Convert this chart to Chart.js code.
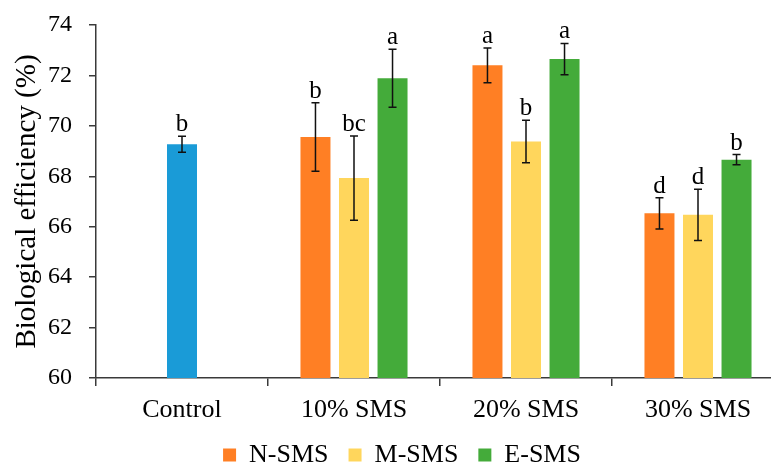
<!DOCTYPE html>
<html>
<head>
<meta charset="utf-8">
<script src="https://cdn.jsdelivr.net/npm/chart.js@4/dist/chart.umd.min.js"></script>
<style>
  html, body { margin:0; padding:0; overflow:hidden; background:#fff; }
  canvas { display:block; }
</style>
</head>
<body>
<canvas id="chart" width="784" height="464"></canvas>
<script>

// categories and series
const categories = ['Control', '10% SMS', '20% SMS', '30% SMS']
const yTicks     = [60, 62, 64, 66, 68, 70, 72, 74]

const controlVals = [69.27, null, null, null]
const nVals       = [null, 69.56, 72.40, 66.53]
const mVals       = [null, 67.93, 69.38, 66.47]
const eVals       = [null, 71.89, 72.65, 68.66]

// standard deviations
const controlErr = [0.32, null, null, null]
const nErr       = [null, 1.36, 0.69, 0.62]
const mErr       = [null, 1.67, 0.84, 1.02]
const eErr       = [null, 1.15, 0.62, 0.20]

// significance letters
const controlSig = ['b', null, null, null]
const nSig       = [null, 'b', 'a', 'd']
const mSig       = [null, 'bc', 'b', 'd']
const eSig       = [null, 'a', 'a', 'b']

const serif = '"Liberation Serif", "Times New Roman", serif'
const axisColor = '#3a3a3a'

const errList = [controlErr, nErr, mErr, eErr]
const sigList = [controlSig, nSig, mSig, eSig]


const errorBars = {
      id: 'errorBars',
      afterDatasetsDraw(chart){
            const ctx = chart.ctx
            const yScale = chart.scales.y
            ctx.save()
            chart.data.datasets.forEach((ds, i)=>{
                  const meta = chart.getDatasetMeta(i)
                  meta.data.forEach((bar, j)=>{
                        const v = ds.data[j]
                        if(v === null){ return }
                        const e = errList[i][j]
                        const yTop = yScale.getPixelForValue(v + e)
                        const yBot = yScale.getPixelForValue(v - e)
                        const x = bar.x
                        ctx.strokeStyle = '#111'
                        ctx.lineWidth = 1.5
                        ctx.beginPath()
                        ctx.moveTo(x, yTop); ctx.lineTo(x, yBot)
                        ctx.moveTo(x-4, yTop); ctx.lineTo(x+4, yTop)
                        ctx.moveTo(x-4, yBot); ctx.lineTo(x+4, yBot)
                        ctx.stroke()

                        ctx.fillStyle = '#000'
                        ctx.font = '25px ' + serif
                        ctx.textAlign = 'center'
                        ctx.textBaseline = 'alphabetic'
                        ctx.fillText(sigList[i][j], x, yTop - 5)
                  })
            })
            ctx.restore()
      }
}


const setup = {
      type: 'bar',
      data: {
            labels: categories,
            datasets: [
                  { label:'Control', data: controlVals, backgroundColor:'#1a9bd7' },
                  { label:'N-SMS',   data: nVals,       backgroundColor:'#ff7f24' },
                  { label:'M-SMS',   data: mVals,       backgroundColor:'#ffd65c' },
                  { label:'E-SMS',   data: eVals,       backgroundColor:'#44ab3a' },
            ]
      },
      options: {
            responsive: false,
            animation: false,
            skipNull: true,
            categoryPercentage: 0.672,
            barPercentage: 0.78,
            maxBarThickness: 30,
            layout: { padding: { top: 25, right: 0, bottom: -14, left: 20 } },
            scales: {
                  x: {
                        afterFit: (scale)=>{ scale.height = 44 },
                        grid: { offset: true, drawOnChartArea: false, tickLength: 8, color: axisColor, lineWidth: 1.5 },
                        border: { color: axisColor, width: 1.5 },
                        ticks: { color:'#000', font: { family: serif, size: 26 }, padding: 9 },
                  },
                  y: {
                        min: 60, max: 74,
                        afterFit: (scale)=>{ scale.width = 76; scale.paddingTop = 0; scale.paddingBottom = 0 },
                        afterBuildTicks: (scale)=>{ scale.ticks = yTicks.map(v => ({ value: v })) },
                        grid: { drawOnChartArea: false, tickLength: 7, color: axisColor, lineWidth: 1.5 },
                        border: { color: axisColor, width: 1.5 },
                        ticks: { color:'#000', font: { family: serif, size: 24 }, padding: 17 },
                        title: {
                              display: true,
                              text: 'Biological efficiency (%)',
                              color: '#000',
                              font: { family: serif, size: 29, lineHeight: 1 },
                              padding: { top: -7.5, bottom: 0 }
                        }
                  }
            },
            plugins: {
                  legend: {
                        display: true,
                        position: 'bottom',
                        labels: {
                              color: '#000',
                              font: { family: serif, size: 26 },
                              boxWidth: 13, boxHeight: 13,
                              padding: 20,
                              filter: (item)=> item.text !== 'Control'
                        }
                  },
                  tooltip: { enabled: false }
            }
      },
      plugins: [errorBars]
}

new Chart(document.getElementById('chart'), setup)

</script>
</body>
</html>
